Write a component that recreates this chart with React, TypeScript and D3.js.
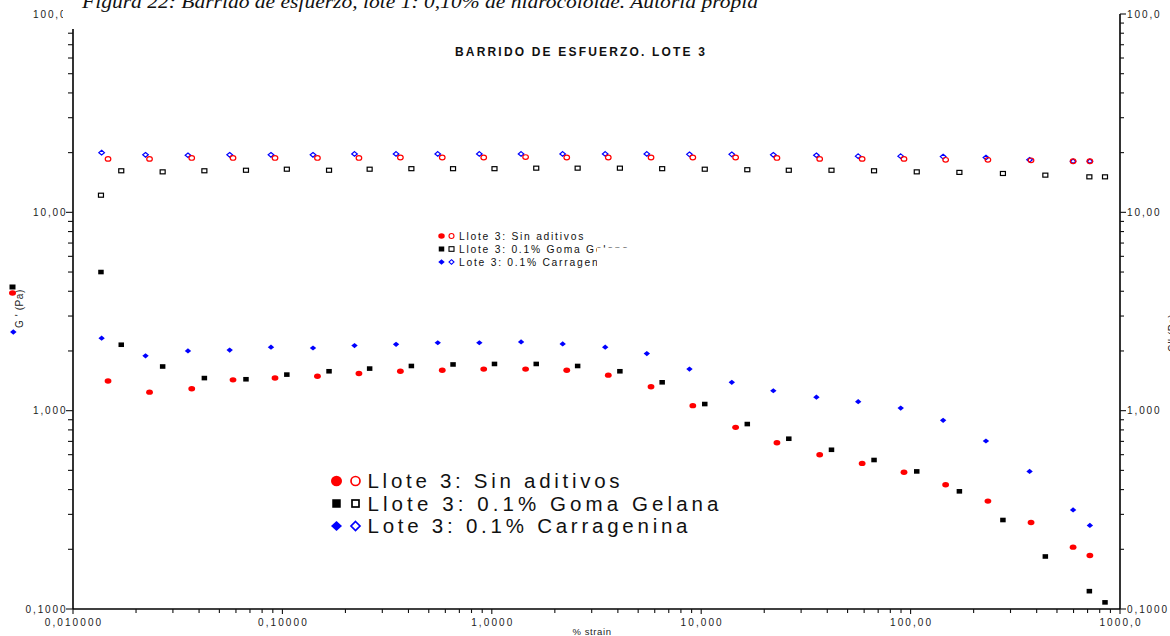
import React from "react";
import * as d3 from "d3";

// Strain sweep (% strain) and moduli (Pa) for the three batches
const strainSin = [0.0147, 0.0232, 0.0369, 0.0581, 0.0922, 0.147, 0.232, 0.366, 0.58, 0.915, 1.45, 2.28, 3.6, 5.76, 9.12, 14.6, 23.0, 36.8, 58.7, 93.0, 147, 234, 376, 597, 718];
const gPrimeSin = [1.41, 1.24, 1.29, 1.43, 1.46, 1.49, 1.54, 1.58, 1.6, 1.62, 1.62, 1.6, 1.51, 1.32, 1.06, 0.824, 0.689, 0.599, 0.542, 0.489, 0.423, 0.35, 0.273, 0.205, 0.186];
const gDoubleSin = [18.6, 18.6, 18.8, 18.8, 18.8, 18.8, 18.8, 18.9, 18.9, 18.9, 19.0, 18.9, 18.9, 18.9, 18.9, 18.9, 18.8, 18.6, 18.6, 18.6, 18.4, 18.4, 18.3, 18.1, 18.1];

const strainGelana = [0.0136, 0.017, 0.0268, 0.0424, 0.067, 0.105, 0.167, 0.261, 0.413, 0.653, 1.03, 1.63, 2.57, 4.09, 6.51, 10.4, 16.6, 26.2, 41.9, 66.9, 107, 171, 276, 440, 714, 848];
const gPrimeGelana = [5.0, 2.15, 1.67, 1.46, 1.44, 1.52, 1.58, 1.63, 1.68, 1.71, 1.72, 1.72, 1.68, 1.58, 1.39, 1.08, 0.856, 0.722, 0.635, 0.564, 0.494, 0.392, 0.281, 0.184, 0.123, 0.108];
const gDoubleGelana = [12.2, 16.2, 16.0, 16.2, 16.3, 16.5, 16.3, 16.5, 16.6, 16.6, 16.6, 16.7, 16.7, 16.7, 16.6, 16.5, 16.4, 16.3, 16.3, 16.2, 16.0, 15.9, 15.7, 15.4, 15.1, 15.1];

const strainCarr = [0.0137, 0.0222, 0.0354, 0.056, 0.0882, 0.14, 0.221, 0.349, 0.552, 0.872, 1.38, 2.18, 3.48, 5.5, 8.79, 14.0, 22.1, 35.5, 56.2, 89.7, 143, 229, 370, 597, 718];
const gPrimeCarr = [2.32, 1.89, 2.0, 2.02, 2.09, 2.07, 2.13, 2.16, 2.2, 2.2, 2.22, 2.17, 2.09, 1.94, 1.62, 1.39, 1.26, 1.17, 1.11, 1.03, 0.894, 0.703, 0.494, 0.316, 0.264];
const gDoubleCarr = [20.0, 19.5, 19.4, 19.5, 19.5, 19.5, 19.7, 19.7, 19.7, 19.7, 19.7, 19.7, 19.7, 19.7, 19.6, 19.6, 19.5, 19.4, 19.2, 19.2, 19.1, 18.9, 18.4, 18.1, 18.1];

const xTickLabels = ["0,010000", "0,10000", "1,0000", "10,000", "100,00", "1000,0"];
const yTickLabels = ["0,1000", "1,000", "10,00", "100,0"];
const legendLabels = ["Llote 3: Sin aditivos", "Llote 3: 0.1% Goma Gelana", "Lote 3: 0.1% Carragenina"];
const smallLegendLabels = ["Llote 3: Sin aditivos", "Llote 3: 0.1% Goma Gelana", "Lote 3: 0.1% Carragenina"];

const RED = "#ff0000";
const BLUE = "#0000ff";
const BLACK = "#000000";
const SANS = "'Liberation Sans', Arial, sans-serif";

type Shape = "circle" | "square" | "diamond";

function Marker({ shape, filled, cx, cy, w, h, color, sw = 1.2 }: { shape: Shape; filled: boolean; cx: number; cy: number; w: number; h: number; color: string; sw?: number }) {
  const fill = filled ? color : "none";
  const stroke = filled ? "none" : color;
  if (shape === "circle") {
    return <ellipse cx={cx} cy={cy} rx={w / 2} ry={h / 2} fill={fill} stroke={stroke} strokeWidth={sw} />;
  }
  if (shape === "square") {
    return <rect x={cx - w / 2} y={cy - h / 2} width={w} height={h} fill={fill} stroke={stroke} strokeWidth={sw} />;
  }
  const p = `M${cx},${cy - h / 2}L${cx + w / 2},${cy}L${cx},${cy + h / 2}L${cx - w / 2},${cy}Z`;
  return <path d={p} fill={fill} stroke={stroke} strokeWidth={sw} />;
}

export default function App() {
  const W = 1170;
  const H = 636;
  const x = d3.scaleLog().domain([0.01, 1000]).range([73, 1120]);
  const y = d3.scaleLog().domain([0.1, 100]).range([609, 14]);

  const isMajor = (v: number) => Math.abs(Math.log10(v) - Math.round(Math.log10(v))) < 1e-9;
  const xTicks = x.ticks();
  const yTicks = y.ticks();
  const xMajors = xTicks.filter(isMajor);
  const yMajors = yTicks.filter(isMajor);

  const series = [
    { strain: strainGelana, gp: gPrimeGelana, gpp: gDoubleGelana, shape: "square" as Shape, color: BLACK, fw: 5.5, fh: 4.6, ow: 5, oh: 4 },
    { strain: strainCarr, gp: gPrimeCarr, gpp: gDoubleCarr, shape: "diamond" as Shape, color: BLUE, fw: 6.4, fh: 5.2, ow: 5.6, oh: 4.6 },
    { strain: strainSin, gp: gPrimeSin, gpp: gDoubleSin, shape: "circle" as Shape, color: RED, fw: 6.8, fh: 5.4, ow: 5.6, oh: 4.6 },
  ];

  const legendRows = [
    { shape: "circle" as Shape, color: RED },
    { shape: "square" as Shape, color: BLACK },
    { shape: "diamond" as Shape, color: BLUE },
  ];

  return (
    <svg width={W} height={H} style={{ position: "absolute", left: 0, top: 0, background: "#fff" }} fontFamily={SANS}>
      <rect x={0} y={0} width={W} height={H} fill="#fff" />

      {/* axes */}
      <line x1={73} x2={73} y1={y(100)} y2={y(0.1)} stroke="#000" strokeWidth={1.6} />
      <line x1={1120} x2={1120} y1={y(100)} y2={y(0.1)} stroke="#000" strokeWidth={1.6} />
      <line x1={x(0.01)} x2={x(1000)} y1={609} y2={609} stroke="#000" strokeWidth={1.6} />

      {/* bottom ticks */}
      {xTicks.map((t, i) => (
        <line key={"xt" + i} x1={x(t)} x2={x(t)} y1={609} y2={609 + (isMajor(t) ? 5 : 4)} stroke="#111" strokeWidth={1.1} />
      ))}
      {xMajors.map((t, i) => (
        <text key={"xl" + i} x={x(t) + 1} y={625.5} fontSize={10} letterSpacing={2.1} textAnchor="middle" fill="#222">
          {xTickLabels[i]}
        </text>
      ))}
      <text x={592} y={635} fontSize={9.5} letterSpacing={0.6} textAnchor="middle" fill="#222">% strain</text>

      {/* left ticks */}
      {yTicks.map((t, i) => (
        <line key={"ylt" + i} x1={73} x2={73 - (isMajor(t) ? 7 : 5)} y1={y(t)} y2={y(t)} stroke="#111" strokeWidth={1.1} />
      ))}
      {yMajors.map((t, i) => (
        <text key={"yll" + i} x={67.5} y={y(t) + 3.6} fontSize={10} letterSpacing={1.9} textAnchor="end" fill="#222">
          {yTickLabels[i]}
        </text>
      ))}

      {/* right ticks */}
      {yTicks.map((t, i) => (
        <line key={"yrt" + i} x1={1120} x2={1120 + (isMajor(t) ? 6 : 4)} y1={y(t)} y2={y(t)} stroke="#111" strokeWidth={1.1} />
      ))}
      {yMajors.map((t, i) => (
        <text key={"yrl" + i} x={1127} y={y(t) + 3.6} fontSize={10} letterSpacing={1.9} textAnchor="start" fill="#222">
          {yTickLabels[i]}
        </text>
      ))}

      {/* axis titles */}
      <g>
        <text transform="translate(23,328) rotate(-90)" fontSize={10} letterSpacing={0.6} fill="#222">G ' (Pa)</text>
        <Marker shape="square" filled cx={12.5} cy={287} w={6} h={5} color={BLACK} />
        <Marker shape="circle" filled cx={12.5} cy={293} w={7} h={5.5} color={RED} />
        <Marker shape="diamond" filled cx={13.3} cy={332} w={6.5} h={5.5} color={BLUE} />
      </g>
      <text transform="translate(1176,352) rotate(-90)" fontSize={10} letterSpacing={0.6} fill="#222">G'' (Pa)</text>

      {/* title */}
      <text x={455} y={56} fontSize={12} fontWeight="bold" textLength={250} lengthAdjust="spacing" fill="#111">
        BARRIDO DE ESFUERZO. LOTE 3
      </text>

      {/* data: storage modulus (filled) and loss modulus (open) */}
      {series.map((s, si) => (
        <g key={"s" + si}>
          {s.strain.map((st, i) => (
            <Marker key={"gpp" + i} shape={s.shape} filled={false} cx={x(st)} cy={y(s.gpp[i])} w={s.ow} h={s.oh} color={s.color} sw={1.2} />
          ))}
          {s.strain.map((st, i) => (
            <Marker key={"gp" + i} shape={s.shape} filled cx={x(st)} cy={y(s.gp[i])} w={s.fw} h={s.fh} color={s.color} />
          ))}
        </g>
      ))}

      {/* small legend */}
      <g>
        {legendRows.map((r, i) => (
          <g key={"sl" + i}>
            <Marker shape={r.shape} filled cx={441.5} cy={236 + i * 13} w={r.shape === "square" ? 5.5 : 6.5} h={r.shape === "square" ? 5 : 5.5} color={r.color} />
            <Marker shape={r.shape} filled={false} cx={451.5} cy={236 + i * 13} w={5} h={r.shape === "circle" ? 5 : 4.6} color={r.color} sw={1.1} />
            <text x={459} y={239.8 + i * 13} fontSize={10.3} letterSpacing={1.75} fill="#111">
              {smallLegendLabels[i]}
            </text>
          </g>
        ))}
        <rect x={597} y={247.6} width={60} height={24} fill="#fff" />
      </g>

      {/* large legend */}
      <g>
        {legendRows.map((r, i) => {
          const cy = 481 + i * 22.5;
          return (
            <g key={"bl" + i}>
              <Marker shape={r.shape} filled cx={336.5} cy={cy} w={r.shape === "square" ? 8.5 : 11} h={r.shape === "square" ? 8.5 : r.shape === "circle" ? 10.5 : 10} color={r.color} />
              <Marker shape={r.shape} filled={false} cx={355.5} cy={cy} w={r.shape === "square" ? 7 : 9} h={r.shape === "square" ? 7 : 9} color={r.color} sw={1.7} />
              <text x={367.5} y={cy + 7.2} fontSize={20.5} textLength={[252, 351, 320][i]} lengthAdjust="spacing" fill="#111">
                {legendLabels[i]}
              </text>
            </g>
          );
        })}
      </g>

      {/* caption band */}
      <rect x={63} y={0} width={940} height={29} fill="#fff" />
      <text x={82} y={7.5} fontFamily="'Liberation Serif', 'Times New Roman', serif" fontStyle="italic" fontSize={19} textLength={676} lengthAdjust="spacingAndGlyphs" fill="#111">
        Figura 22: Barrido de esfuerzo, lote 1: 0,10% de hidrocoloide. Autoría propia
      </text>
    </svg>
  );
}
